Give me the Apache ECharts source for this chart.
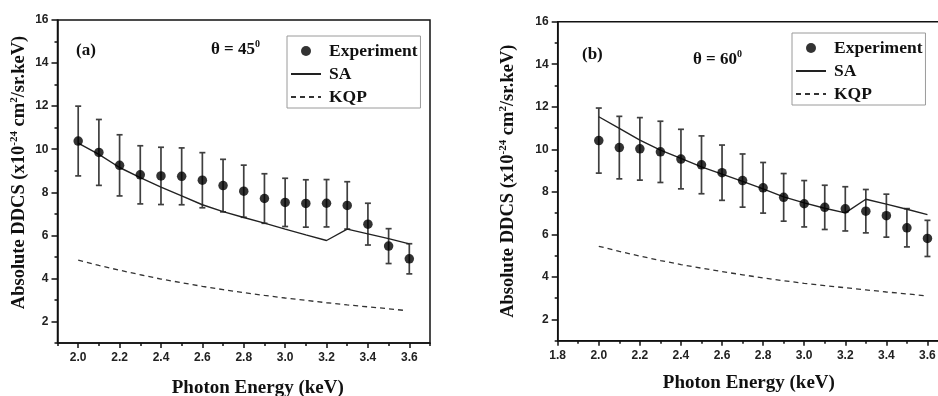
<!DOCTYPE html>
<html><head><meta charset="utf-8">
<script src="https://cdn.jsdelivr.net/npm/echarts@6/dist/echarts.min.js"></script>
<style>html,body{margin:0;padding:0;background:#fff}#c{width:938px;height:396px}</style>
</head><body><div id="c"></div>
<script>
// ---- data ----
const energies = [2.0,2.1,2.2,2.3,2.4,2.5,2.6,2.7,2.8,2.9,3.0,3.1,3.2,3.3,3.4,3.5,3.6];
// panel (a) theta = 45
const expA = [10.38,9.85,9.25,8.81,8.76,8.74,8.56,8.31,8.05,7.71,7.53,7.48,7.49,7.39,6.52,5.50,4.91];
const errA = [1.62,1.53,1.42,1.35,1.33,1.32,1.28,1.22,1.21,1.15,1.12,1.10,1.10,1.10,0.97,0.81,0.70];
const saA  = [10.28,9.76,9.15,8.68,8.24,7.83,7.42,7.10,6.83,6.57,6.29,6.02,5.76,6.29,6.07,5.85,5.60];
const kqpEnergiesA = [2.0,2.1,2.2,2.3,2.4,2.5,2.6,2.7,2.8,2.9,3.0,3.1,3.2,3.3,3.4,3.5,3.57];
const kqpA = [4.85,4.60,4.38,4.17,3.97,3.80,3.63,3.48,3.34,3.21,3.09,2.98,2.87,2.77,2.68,2.59,2.52];
// panel (b) theta = 60
const expB = [10.41,10.08,10.02,9.88,9.54,9.27,8.90,8.53,8.19,7.74,7.44,7.27,7.20,7.09,6.88,6.31,5.81];
const errB = [1.53,1.47,1.47,1.44,1.40,1.36,1.30,1.25,1.19,1.12,1.09,1.04,1.04,1.02,1.01,0.90,0.85];
const saB  = [11.53,10.98,10.43,9.96,9.57,9.17,8.83,8.49,8.14,7.76,7.48,7.23,7.01,7.65,7.42,7.18,6.93];
const kqpB = [5.44,5.20,4.98,4.77,4.58,4.41,4.25,4.10,3.95,3.82,3.70,3.59,3.49,3.39,3.29,3.20,3.10];
// ticks
const xMajorA = [2.0,2.2,2.4,2.6,2.8,3.0,3.2,3.4,3.6];
const xMinorA = [1.9,2.1,2.3,2.5,2.7,2.9,3.1,3.3,3.5,3.7];
const xMajorB = [1.8,2.0,2.2,2.4,2.6,2.8,3.0,3.2,3.4,3.6];
const xMinorB = [1.9,2.1,2.3,2.5,2.7,2.9,3.1,3.3,3.5];
const yMajor = [2,4,6,8,10,12,14,16];
const yMinor = [1,3,5,7,9,11,13,15];
const legendNames = ['Experiment','SA','KQP'];

// ---- styling ----
const SERIF = "'Liberation Serif','Times New Roman',serif";
const SANS = "'Liberation Sans',Arial,sans-serif";
const INK = '#111';
const lineSt = {color: INK, width: 1.5};
const CLEAR = 'rgba(0,0,0,0)';

function pairs(xs, ys){ return xs.map((x,i)=>[x, ys[i]]); }

function xAxes(gi, min, max, major, minor, gap, pad){
  return [{
    gridIndex: gi, type:'value', min, max, position:'bottom',
    axisLine:{onZero:false, lineStyle: lineSt},
    axisTick:{show:true, customValues: major, length:5, lineStyle: lineSt},
    axisLabel:{customValues: major, margin:9, fontFamily:SANS, fontWeight:'bold', fontSize:12, color:'#222',
      formatter: v => v.toFixed(1)},
    splitLine:{show:false},
    name:'Photon Energy (keV)', nameLocation:'middle', nameGap: gap,
    nameTextStyle:{fontFamily:SERIF, fontWeight:'bold', fontSize:19, color:INK, padding: pad}
  },{
    gridIndex: gi, type:'value', min, max, position:'bottom',
    axisLine:{show:false, onZero:false},
    axisTick:{show:true, customValues: minor, length:3, lineStyle: lineSt},
    axisLabel:{show:false}, splitLine:{show:false}
  }];
}
function yAxes(gi, gap, pad){
  return [{
    gridIndex: gi, type:'value', min:1, max:16, position:'left',
    axisLine:{onZero:false, lineStyle: lineSt},
    axisTick:{show:true, customValues: yMajor, length:6, lineStyle: lineSt},
    axisLabel:{customValues: yMajor, margin:9, fontFamily:SANS, fontWeight:'bold', fontSize:12, color:'#222'},
    splitLine:{show:false},
    name:'Absolute DDCS (x10{s|-24} cm{s|2}/sr.keV)', nameLocation:'middle', nameGap: gap,
    nameTextStyle:{fontFamily:SERIF, fontWeight:'bold', fontSize:18.5, color:INK, padding: pad,
      rich:{s:{fontFamily:SERIF, fontWeight:'bold', fontSize:11, color:INK, padding:[0,0,11,0], verticalAlign:'middle'}}}
  },{
    gridIndex: gi, type:'value', min:1, max:16, position:'left',
    axisLine:{show:false, onZero:false},
    axisTick:{show:true, customValues: yMinor, length:3, lineStyle: lineSt},
    axisLabel:{show:false}, splitLine:{show:false}
  }];
}
function errorSeries(xi, yi, xs, ys, es){
  return {
    type:'custom', xAxisIndex: xi, yAxisIndex: yi, z:2, silent:true,
    data: xs.map((x,i)=>[x, ys[i]-es[i], ys[i]+es[i]]),
    encode:{x:0, y:[1,2]},
    renderItem(params, api){
      const lo = api.coord([api.value(0), api.value(1)]);
      const hi = api.coord([api.value(0), api.value(2)]);
      const w = 3;
      const st = {stroke:'#3f3f3f', lineWidth:1.7, fill:null};
      return {type:'group', children:[
        {type:'line', shape:{x1:lo[0], y1:lo[1], x2:hi[0], y2:hi[1]}, style:st},
        {type:'line', shape:{x1:lo[0]-w, y1:lo[1], x2:lo[0]+w, y2:lo[1]}, style:st},
        {type:'line', shape:{x1:hi[0]-w, y1:hi[1], x2:hi[0]+w, y2:hi[1]}, style:st}
      ]};
    }
  };
}
function panelSeries(xi, yi, exp, err, sa, kqpX, kqp){
  return [
    errorSeries(xi, yi, energies, exp, err),
    {name:'Experiment', type:'scatter', xAxisIndex:xi, yAxisIndex:yi, z:3, symbol:'circle', symbolSize:9.5,
      itemStyle:{color:'#000'}, data: pairs(energies, exp)},
    {name:'SA', type:'line', xAxisIndex:xi, yAxisIndex:yi, z:2, symbol:'none',
      itemStyle:{color:CLEAR, borderWidth:0},
      lineStyle:{color:'#222', width:1.4}, data: pairs(energies, sa)},
    {name:'KQP', type:'line', xAxisIndex:xi, yAxisIndex:yi, z:2, symbol:'none',
      itemStyle:{color:CLEAR, borderWidth:0},
      lineStyle:{color:'#333', width:1.3, type:[5,4]}, data: pairs(kqpX, kqp)}
  ];
}
function legendBox(left, top){
  return {
    orient:'vertical', left, top, itemWidth:30, itemHeight:10, itemGap:5,
    padding:[6,3,2,3], borderColor:'#9a9a9a', borderWidth:1, backgroundColor:'#fff',
    selectedMode:false,
    textStyle:{fontFamily:SERIF, fontWeight:'bold', fontSize:17.5, color:INK, padding:[0,0,0,3], lineHeight:18},
    data: legendNames
  };
}
function label(x, y, main, sup){
  const txt = sup ? '{a|' + main + '}{b|' + sup + '}' : '{a|' + main + '}';
  return {type:'text', x, y, z:10, style:{text: txt, verticalAlign:'middle', align:'left',
    rich:{a:{fontFamily:SERIF, fontWeight:'bold', fontSize:17, fill:INK, verticalAlign:'middle'},
          b:{fontFamily:SERIF, fontWeight:'bold', fontSize:10, fill:INK, padding:[0,0,12,0], verticalAlign:'middle'}}}};
}

const chart = echarts.init(document.getElementById('c'), null, {renderer:'canvas'});
chart.setOption({
  animation:false,
  backgroundColor:'#fff',
  grid:[
    {left:57.5, top:20, width:372.5, height:323, show:true, borderColor:INK, borderWidth:1.5,
      containLabel:false, outerBoundsMode:'none'},
    {left:557.7, top:21.7, width:390.3, height:319, show:true, borderColor:INK, borderWidth:1.5,
      containLabel:false, outerBoundsMode:'none'}
  ],
  xAxis: [...xAxes(0, 1.9, 3.7, xMajorA, xMinorA, 36, [0,0,0,28]),
          ...xAxes(1, 1.8, 3.7, xMajorB, xMinorB, 33, [0,8,0,0])],
  yAxis: [...yAxes(0, 27, [0,0,0,18]), ...yAxes(1, 38, 0)],
  legend:[legendBox(287, 36), legendBox(792, 33)],
  graphic:[
    label(76, 51, '(a)'),
    label(211, 50, '\u03b8 = 45', '0'),
    label(582, 55, '(b)'),
    label(693, 60, '\u03b8 = 60', '0')
  ],
  series:[
    ...panelSeries(0, 0, expA, errA, saA, kqpEnergiesA, kqpA),
    ...panelSeries(2, 2, expB, errB, saB, energies, kqpB)
  ]
});
</script></body></html>
